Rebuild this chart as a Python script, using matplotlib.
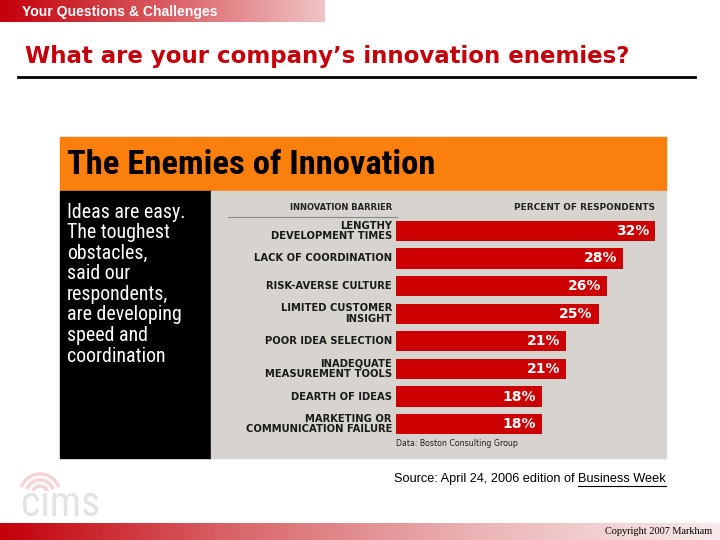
import numpy as np
import matplotlib
matplotlib.use("Agg")
import matplotlib.pyplot as plt
from matplotlib import font_manager as fm
from matplotlib.patches import Rectangle, Arc

# data
barriers = [
    "LENGTHY\nDEVELOPMENT TIMES",
    "LACK OF COORDINATION",
    "RISK-AVERSE CULTURE",
    "LIMITED CUSTOMER\nINSIGHT",
    "POOR IDEA SELECTION",
    "INADEQUATE\nMEASUREMENT TOOLS",
    "DEARTH OF IDEAS",
    "MARKETING OR\nCOMMUNICATION FAILURE",
]
percents = [32, 28, 26, 25, 21, 21, 18, 18]
panel_lines = [
    "Ideas are easy.",
    "The toughest",
    "obstacles,",
    "said our",
    "respondents,",
    "are developing",
    "speed and",
    "coordination",
]

# pick a narrow face if the box has one
installed = {f.name for f in fm.fontManager.ttflist}
narrow_stretch = {(f.name, f.stretch) for f in fm.fontManager.ttflist}
narrow = "DejaVu Sans"
narrow_kw = {}
for cand in ["Roboto Condensed", "Liberation Sans Narrow", "Open Sans Condensed"]:
    if cand in installed:
        narrow = cand
        break
else:
    if any(n == "DejaVu Sans" and s != "normal" for n, s in narrow_stretch):
        narrow_kw = {"fontstretch": "condensed"}

RED = "#cc0000"
ORANGE = "#fb7f0c"
GRAY = "#d7d4cf"

fig = plt.figure(figsize=(7.2, 5.4), dpi=100)
bg = fig.add_axes([0, 0, 1, 1])
bg.set_xlim(0, 720)
bg.set_ylim(540, 0)
bg.axis("off")

# top banner gradient
grad = np.linspace(0, 1, 256).reshape(1, -1)
top_cmap = matplotlib.colors.LinearSegmentedColormap.from_list("t", ["#c4000a", "#d95a60", "#f0c4c6"])
bg.imshow(grad, extent=[0, 325, 22, 0], cmap=top_cmap, aspect="auto", zorder=1)
bg.text(22, 12, "Your Questions & Challenges", color="white", fontsize=10.1,
        fontweight="bold", family="Liberation Sans", va="center", zorder=3)

# slide title
bg.text(25, 57, "What are your company\u2019s innovation enemies?", color="#c4000a",
        fontsize=16.5, fontweight="bold", va="center", zorder=3)
bg.plot([18, 695], [77, 77], color="black", lw=2, zorder=3)

# graphic block
bg.add_patch(Rectangle((60, 137), 606, 54, color=ORANGE, zorder=1))
bg.add_patch(Rectangle((60, 191), 151, 267, color="black", zorder=1))
bg.add_patch(Rectangle((211, 191), 455, 267, color=GRAY, zorder=1))
bg.text(67, 165, "The Enemies of Innovation", color="black", fontsize=24.8,
        fontweight="bold", family=narrow, va="center", zorder=3, **narrow_kw)

for i, line in enumerate(panel_lines):
    bg.text(67, 212 + i * 20.6, line, color="white", fontsize=14.3,
            family=narrow, va="center", zorder=3, **narrow_kw)

bg.text(392, 208, "INNOVATION BARRIER", fontsize=6, fontweight="bold",
        ha="right", va="center", color="#222", zorder=3)
bg.text(655, 208, "PERCENT OF RESPONDENTS", fontsize=6.4, fontweight="bold",
        ha="right", va="center", color="#222", zorder=3)
bg.plot([228, 397], [217, 217], color="#8a8a8a", lw=0.8, zorder=3)
bg.text(396, 444, "Data: Boston Consulting Group", fontsize=5.7,
        va="center", color="#222", zorder=3)

# bars
ax = fig.add_axes([396 / 720, 1 - 438 / 540, 265 / 720, 221 / 540])
ax.set_xlim(0, 265 / 8.1)
ax.set_ylim(len(percents) - 0.5, -0.5)
ax.axis("off")
ypos = np.arange(len(percents))
ax.barh(ypos, percents, height=0.73, color=RED, zorder=2)
for y, v, lab in zip(ypos, percents, barriers):
    ax.text(v - 0.7, y, f"{v}%", color="white", fontsize=10, fontweight="bold",
            ha="right", va="center")
    ax.text(-0.5, y, lab, fontsize=7.2, fontweight="bold", ha="right", va="center",
            linespacing=1.05, color="#1a1a1a")

# source line with underlined magazine name
pre = bg.text(0, 479, "Source: April 24, 2006 edition of ", fontsize=9.2,
              family="Liberation Sans", va="center", zorder=3)
mag = bg.text(666, 479, "Business Week", fontsize=9.2, family="Liberation Sans",
              ha="right", va="center", zorder=3)
fig.canvas.draw()
r = fig.canvas.get_renderer()
inv = bg.transData.inverted()
mb = mag.get_window_extent(r)
(mx0, _), (mx1, _) = inv.transform([[mb.x0, mb.y0], [mb.x1, mb.y1]])
pb = pre.get_window_extent(r)
pre.set_x(mx0 - pb.width)
bg.plot([mx0, mx1], [485.5, 485.5], color="black", lw=0.8, zorder=3)

# cims logo (faded)
bg.text(21, 505, "cims", fontsize=30, color="#e3e3e3", family=narrow,
        va="center", zorder=2, **narrow_kw)
for rr in [8, 14, 20]:
    bg.add_patch(Arc((40, 494), rr * 2, rr * 2, theta1=200, theta2=340,
                     color="#f5d6d6", lw=2.5, zorder=2))

# bottom band
bot_cmap = matplotlib.colors.LinearSegmentedColormap.from_list("b", ["#c4000a", "#d9686c", "#ebb5b7", "#f8eaea"])
bg.imshow(grad, extent=[0, 720, 540, 523], cmap=bot_cmap, aspect="auto", zorder=1)
bg.text(712, 531, "Copyright 2007 Markham", fontsize=7.4, family="Liberation Serif",
        ha="right", va="center", zorder=3)

fig.savefig("out.png", dpi=100)
